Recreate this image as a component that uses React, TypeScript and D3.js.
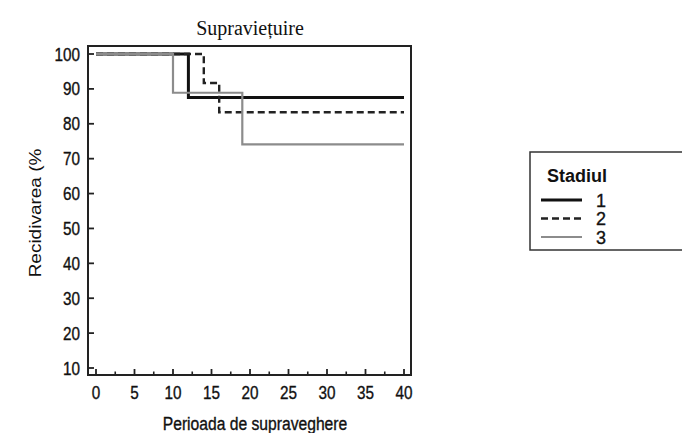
import React from "react";
import * as d3 from "d3";

const title = "Supraviețuire";
const xLabel = "Perioada de supraveghere";
const yLabel = "Recidivarea (%";
const legendTitle = "Stadiul";
const xTicks = [0, 5, 10, 15, 20, 25, 30, 35, 40];
const xMinorTicks = [2.5, 7.5, 12.5, 17.5, 22.5, 27.5, 32.5, 37.5];
const yTicks = [10, 20, 30, 40, 50, 60, 70, 80, 90, 100];

// Kaplan-Meier steps: [time, value]
const stage1 = [[0, 100], [12, 100], [12, 87.5], [40, 87.5]];
const stage2 = [[0, 100], [14, 100], [14, 91.7], [16, 91.7], [16, 83.3], [40, 83.3]];
const stage3 = [[0, 100], [10, 100], [10, 88.9], [19, 88.9], [19, 74.1], [40, 74.1]];
const seriesNames = ["1", "2", "3"];

const W = 682, H = 433;
const frame = { l: 88, r: 411, t: 46, b: 375 };
const sans = "'Liberation Sans', Arial, sans-serif";

function T(props: any) {
  const { x, y, sx = 1, rot, children, ...rest } = props;
  return (
    <text transform={`translate(${x},${y}) scale(${sx},1)${rot ? ` rotate(${rot})` : ""}`}
      fontFamily={sans} fill="#111" stroke="#111" strokeWidth={0.35} {...rest}>
      {children}
    </text>
  );
}

export default function App() {
  const x = d3.scaleLinear().domain([0, 40]).range([96, 404]);
  const y = d3.scaleLinear().domain([10, 100]).range([368, 54]);
  const line = d3.line<number[]>().x(d => x(d[0])).y(d => y(d[1]));

  const series = [
    { name: seriesNames[0], data: stage1, stroke: "#111", width: 3, dash: "" },
    { name: seriesNames[1], data: stage2, stroke: "#222", width: 2.4, dash: "7,4" },
    { name: seriesNames[2], data: stage3, stroke: "#8c8c8c", width: 2.2, dash: "" },
  ];

  return (
    <svg width={W} height={H} style={{ position: "absolute", left: 0, top: 0, background: "#fff" }}>
      <rect x={0} y={0} width={W} height={H} fill="#fff" />
      <text x={250} y={35} textAnchor="middle" fontFamily="'Liberation Serif', 'Times New Roman', serif" fontSize={20} fill="#111">
        {title}
      </text>

      {series.map(s => (
        <path key={s.name} d={line(s.data as any) || ""} fill="none" stroke={s.stroke} strokeWidth={s.width}
          strokeDasharray={s.dash || undefined} />
      ))}

      <rect x={frame.l} y={frame.t} width={frame.r - frame.l} height={frame.b - frame.t} fill="none" stroke="#222" strokeWidth={2} />

      {yTicks.map(v => (
        <g key={"y" + v}>
          <line x1={frame.l} x2={frame.l + 6} y1={y(v)} y2={y(v)} stroke="#222" strokeWidth={1.8} />
          <T x={80} y={y(v) + 6.5} sx={0.85} textAnchor="end" fontSize={18}>{v}</T>
        </g>
      ))}

      {xTicks.map(v => (
        <g key={"x" + v}>
          <line x1={x(v)} x2={x(v)} y1={frame.b} y2={frame.b - 6} stroke="#222" strokeWidth={1.8} />
          <T x={x(v)} y={399} sx={0.85} textAnchor="middle" fontSize={18}>{v}</T>
        </g>
      ))}
      {xMinorTicks.map(v => (
        <line key={"m" + v} x1={x(v)} x2={x(v)} y1={frame.b} y2={frame.b - 3.5} stroke="#222" strokeWidth={1.6} />
      ))}

      <T x={255} y={430} sx={0.87} textAnchor="middle" fontSize={18}>{xLabel}</T>
      <T x={41} y={213} sx={0.9} rot={-90} textAnchor="middle" fontSize={19} strokeWidth={0}>{yLabel}</T>

      <rect x={530} y={152} width={160} height={98} fill="#fff" stroke="#333" strokeWidth={1.5} />
      <T x={547} y={182} fontWeight="bold" fontSize={18} strokeWidth={0}>{legendTitle}</T>
      {series.map((s, i) => {
        const ly = 200 + i * 18.5;
        return (
          <g key={"lg" + s.name}>
            <line x1={541} x2={582} y1={ly} y2={ly} stroke={s.stroke} strokeWidth={s.width} strokeDasharray={s.dash || undefined} />
            <T x={596} y={ly + 6.5} fontSize={18}>{s.name}</T>
          </g>
        );
      })}
    </svg>
  );
}
